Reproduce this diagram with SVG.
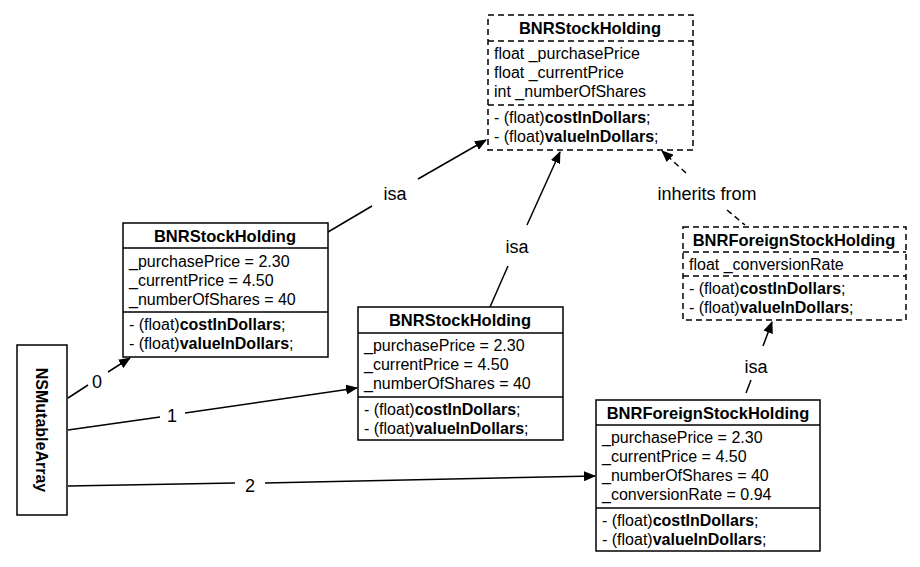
<svg xmlns="http://www.w3.org/2000/svg" width="920" height="567" viewBox="0 0 920 567">
<defs><marker id="ah" markerWidth="12" markerHeight="10" refX="11" refY="5" orient="auto" markerUnits="userSpaceOnUse"><path d="M0,0L12,5L0,10z" fill="#000"/></marker></defs>
<style>
text{font-family:"Liberation Sans",Arial,sans-serif;font-size:16px;fill:#000}
.b{font-weight:bold}
.h{font-weight:bold;text-anchor:middle;font-size:16.5px}
.l{font-size:18px;text-anchor:middle}
.box{fill:#fff;stroke:#000;stroke-width:1.5}
.d{stroke-dasharray:6,4}
.ln{stroke:#000;stroke-width:1.5;fill:none}
</style>
<rect width="920" height="567" fill="#fff"/>
<g id="connectors">
<line class="ln" x1="68" y1="398" x2="88" y2="385"/><line class="ln" x1="108" y1="372" x2="130" y2="358" marker-end="url(#ah)"/>
<text class="l" x="97" y="388">0</text>
<line class="ln" x1="68" y1="430" x2="160" y2="417"/><line class="ln" x1="185" y1="413" x2="357" y2="388" marker-end="url(#ah)"/>
<text class="l" x="172" y="422">1</text>
<line class="ln" x1="68" y1="486" x2="235" y2="483"/><line class="ln" x1="265" y1="483" x2="595" y2="476" marker-end="url(#ah)"/>
<text class="l" x="250" y="492">2</text>
<line class="ln" x1="328" y1="232" x2="372" y2="206"/><line class="ln" x1="418" y1="179" x2="486" y2="140" marker-end="url(#ah)"/>
<text class="l" x="395" y="200">isa</text>
<line class="ln" x1="490" y1="307" x2="508" y2="266"/><line class="ln" x1="527" y1="225" x2="560" y2="152" marker-end="url(#ah)"/>
<text class="l" x="517" y="253">isa</text>
<line class="ln d" x1="686" y1="173" x2="662" y2="151" marker-end="url(#ah)"/><line class="ln d" x1="727" y1="210" x2="745" y2="225"/>
<text class="l" x="707" y="200">inherits from</text>
<line class="ln" x1="746" y1="393" x2="751" y2="380"/><line class="ln" x1="763" y1="346" x2="772" y2="322" marker-end="url(#ah)"/>
<text class="l" x="756" y="373">isa</text>
</g>
<g id="class-BNRStockHolding">
<rect class="box d" x="488" y="15" width="205" height="135"/>
<line class="ln d" x1="488" y1="41" x2="693" y2="41"/><line class="ln d" x1="488" y1="105" x2="693" y2="105"/>
<text class="h" x="590" y="34">BNRStockHolding</text>
<text x="494" y="59">float _purchasePrice</text><text x="494" y="78">float _currentPrice</text><text x="494" y="97">int _numberOfShares</text>
<text x="494" y="123">- (float)<tspan class="b">costInDollars</tspan>;</text><text x="494" y="142">- (float)<tspan class="b">valueInDollars</tspan>;</text>
</g>
<g id="class-BNRForeignStockHolding">
<rect class="box d" x="683" y="227" width="223" height="93"/>
<line class="ln d" x1="683" y1="252" x2="906" y2="252"/><line class="ln d" x1="683" y1="276" x2="906" y2="276"/>
<text class="h" x="794" y="246">BNRForeignStockHolding</text>
<text x="689" y="270">float _conversionRate</text>
<text x="689" y="294">- (float)<tspan class="b">costInDollars</tspan>;</text><text x="689" y="313">- (float)<tspan class="b">valueInDollars</tspan>;</text>
</g>
<g id="array">
<rect class="box" x="17" y="345" width="50" height="170"/>
<text class="b" transform="translate(36,430) rotate(90)" text-anchor="middle" style="font-size:16px">NSMutableArray</text>
</g>
<g id="obj0">
<rect class="box" x="123" y="223" width="205" height="134"/>
<line class="ln" x1="123" y1="248" x2="328" y2="248"/><line class="ln" x1="123" y1="312" x2="328" y2="312"/>
<text class="h" x="225" y="242">BNRStockHolding</text>
<text x="129" y="267">_purchasePrice = 2.30</text><text x="129" y="286">_currentPrice = 4.50</text><text x="129" y="305">_numberOfShares = 40</text>
<text x="129" y="330">- (float)<tspan class="b">costInDollars</tspan>;</text><text x="129" y="349">- (float)<tspan class="b">valueInDollars</tspan>;</text>
</g>
<g id="obj1">
<rect class="box" x="358" y="307" width="205" height="133"/>
<line class="ln" x1="358" y1="333" x2="563" y2="333"/><line class="ln" x1="358" y1="397" x2="563" y2="397"/>
<text class="h" x="460" y="326">BNRStockHolding</text>
<text x="364" y="351">_purchasePrice = 2.30</text><text x="364" y="370">_currentPrice = 4.50</text><text x="364" y="389">_numberOfShares = 40</text>
<text x="364" y="415">- (float)<tspan class="b">costInDollars</tspan>;</text><text x="364" y="434">- (float)<tspan class="b">valueInDollars</tspan>;</text>
</g>
<g id="obj2">
<rect class="box" x="596" y="400" width="224" height="151"/>
<line class="ln" x1="596" y1="425" x2="820" y2="425"/><line class="ln" x1="596" y1="508" x2="820" y2="508"/>
<text class="h" x="708" y="419">BNRForeignStockHolding</text>
<text x="602" y="443">_purchasePrice = 2.30</text><text x="602" y="462">_currentPrice = 4.50</text><text x="602" y="481">_numberOfShares = 40</text><text x="602" y="500">_conversionRate = 0.94</text>
<text x="602" y="526">- (float)<tspan class="b">costInDollars</tspan>;</text><text x="602" y="545">- (float)<tspan class="b">valueInDollars</tspan>;</text>
</g>
</svg>
